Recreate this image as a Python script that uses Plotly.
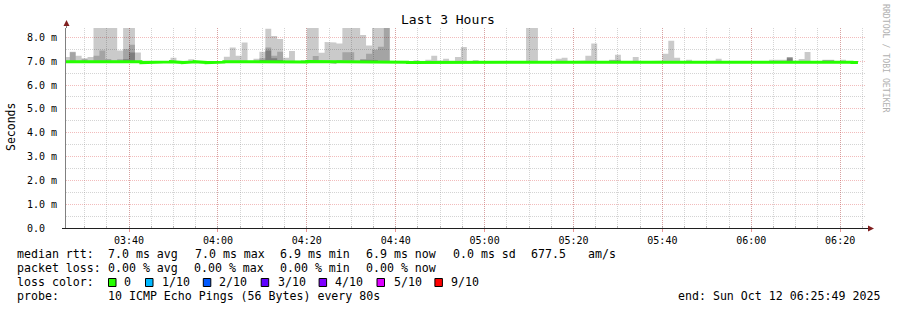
import plotly.graph_objects as go
from datetime import datetime, timedelta

# ---------------- data ----------------
TITLE = "Last 3 Hours"
RANGE_START = datetime(2025, 10, 12, 3, 25, 49)
RANGE_END = datetime(2025, 10, 12, 6, 25, 49)
FIRST_STEP_END = datetime(2025, 10, 12, 3, 26, 40)
STEP_S = 80

y_tick_values = [0, 1, 2, 3, 4, 5, 6, 7, 8]
y_tick_labels = ["0.0\u00a0\u00a0", "1.0 m", "2.0 m", "3.0 m", "4.0 m",
                 "5.0 m", "6.0 m", "7.0 m", "8.0 m"]

# median rtt per 80 s step (ms)
median_ms = [
    6.98, 6.98, 6.98, 6.97, 6.98, 6.98, 6.98, 6.98, 6.98, 6.98,
    6.98, 6.98, 6.98, 6.94, 6.97, 6.94, 6.95, 6.97, 6.98, 6.95,
    6.94, 6.97, 6.98, 6.95, 6.94, 6.97, 6.96, 6.98, 6.98, 6.95,
    6.98, 6.95, 6.97, 6.98, 6.98, 6.98, 6.98, 6.98, 6.98, 6.96,
    6.97, 6.99, 6.98, 6.98, 6.96, 6.97, 6.98, 6.98, 6.98, 6.98,
    6.98, 6.98, 6.98, 6.98, 6.98, 6.98, 6.97, 6.96, 6.95, 6.97,
    6.96, 6.98, 6.98, 6.97, 6.98, 6.97, 6.98, 6.98, 6.96, 6.98,
    6.97, 6.98, 6.98, 6.97, 6.97, 6.97, 6.97, 6.95, 6.96, 6.98,
    6.95, 6.97, 6.98, 6.98, 6.98, 6.97, 6.96, 6.98, 6.98, 6.98,
    6.97, 6.97, 6.97, 6.98, 6.97, 6.96, 6.98, 6.97, 6.97, 6.96,
    6.97, 6.98, 6.98, 6.98, 6.97, 6.98, 6.97, 6.97, 6.96, 6.97,
    6.98, 6.97, 6.96, 6.97, 6.97, 6.97, 6.96, 6.97, 6.98, 6.98,
    6.98, 6.98, 6.98, 6.97, 6.98, 6.98, 6.97, 6.97, 6.98, 6.98,
    6.97, 6.98, 6.96, 6.94,
]

# fastest ping per step (ms)
ping_min_ms = [
    6.95, 6.95, 6.95, 6.94, 6.95, 6.95, 6.95, 6.95, 6.95, 6.95,
    6.95, 6.95, 6.95, 6.92, 6.94, 6.92, 6.93, 6.94, 6.95, 6.93,
    6.92, 6.94, 6.95, 6.93, 6.92, 6.94, 6.93, 6.95, 6.95, 6.93,
    6.95, 6.93, 6.94, 6.95, 6.95, 6.95, 6.95, 6.95, 6.95, 6.93,
    6.94, 6.95, 6.95, 6.95, 6.93, 6.90, 6.92, 6.95, 6.95, 6.95,
    6.95, 6.95, 6.95, 6.95, 6.95, 6.95, 6.94, 6.93, 6.93, 6.94,
    6.93, 6.95, 6.95, 6.94, 6.95, 6.94, 6.95, 6.95, 6.93, 6.95,
    6.94, 6.95, 6.95, 6.94, 6.94, 6.94, 6.94, 6.93, 6.93, 6.95,
    6.93, 6.94, 6.95, 6.95, 6.95, 6.94, 6.93, 6.95, 6.95, 6.95,
    6.94, 6.94, 6.94, 6.95, 6.94, 6.93, 6.95, 6.94, 6.94, 6.93,
    6.94, 6.95, 6.95, 6.95, 6.94, 6.95, 6.94, 6.94, 6.93, 6.94,
    6.95, 6.94, 6.93, 6.94, 6.94, 6.94, 6.93, 6.94, 6.95, 6.95,
    6.95, 6.95, 6.95, 6.94, 6.95, 6.95, 6.94, 6.94, 6.95, 6.95,
    6.94, 6.95, 6.93, 6.92,
]

# slowest ping per step (ms) - values above the graph top are clipped
ping_max_ms = [
    7.18, 7.40, 7.23, 7.12, 7.18, 8.60, 8.60, 8.60, 8.60, 7.45,
    8.60, 8.60, 7.36, 7.02, 7.00, 7.02, 7.00, 7.00, 7.14, 7.00,
    7.00, 7.08, 7.01, 7.01, 7.00, 7.00, 7.00, 7.19, 7.57, 7.23,
    7.78, 7.00, 7.10, 7.40, 8.36, 8.06, 7.93, 7.14, 7.43, 7.00,
    7.05, 8.60, 8.60, 7.35, 7.81, 7.78, 7.74, 8.60, 8.60, 8.60,
    8.10, 7.66, 8.60, 8.60, 8.60, 7.00, 7.00, 7.00, 7.01, 7.04,
    7.00, 7.06, 7.23, 7.03, 7.10, 7.02, 7.18, 7.60, 7.00, 7.05,
    7.00, 7.02, 7.00, 7.00, 7.00, 7.00, 7.00, 7.00, 8.60, 8.60,
    7.00, 7.00, 7.01, 7.10, 7.14, 7.00, 7.00, 7.03, 7.23, 7.74,
    7.01, 7.00, 7.06, 7.27, 7.00, 7.00, 7.18, 7.00, 7.00, 7.00,
    7.02, 7.31, 7.86, 7.14, 7.00, 7.06, 7.00, 7.00, 7.00, 7.02,
    7.10, 7.00, 7.00, 7.03, 7.00, 7.00, 7.00, 7.00, 7.00, 7.06,
    7.06, 7.06, 7.18, 7.02, 7.09, 7.39, 7.00, 7.00, 7.06, 7.06,
    7.00, 7.06, 7.00, 7.00,
]

# 9th of 10 pings (ms)
ping_9_ms = [
    7.00, 7.38, 7.00, 7.08, 7.00, 7.23, 7.45, 7.09, 7.02, 7.08,
    7.50, 7.69, 7.00, 7.00, 7.00, 7.00, 7.00, 7.00, 7.00, 7.00,
    7.00, 7.00, 7.00, 7.00, 7.00, 7.00, 7.00, 7.00, 7.00, 7.00,
    7.00, 7.00, 7.00, 7.12, 7.57, 7.23, 7.40, 7.00, 7.00, 7.00,
    7.00, 7.05, 7.22, 7.00, 7.00, 7.00, 7.05, 7.38, 7.38, 7.02,
    7.08, 7.31, 7.48, 7.61, 8.60, 7.00, 7.00, 7.00, 7.00, 7.00,
    7.00, 7.00, 7.00, 7.00, 7.00, 7.00, 7.00, 7.00, 7.00, 7.00,
    7.00, 7.00, 7.00, 7.00, 7.00, 7.00, 7.00, 7.00, 7.00, 7.00,
    7.00, 7.00, 7.00, 7.00, 7.00, 7.00, 7.00, 7.00, 7.00, 7.00,
    7.00, 7.00, 7.04, 7.06, 7.00, 7.00, 7.00, 7.00, 7.00, 7.00,
    7.00, 7.00, 7.00, 7.00, 7.00, 7.00, 7.00, 7.00, 7.00, 7.00,
    7.00, 7.00, 7.00, 7.00, 7.00, 7.00, 7.00, 7.00, 7.00, 7.00,
    7.00, 7.00, 7.17, 7.00, 7.00, 7.00, 7.00, 7.00, 7.05, 7.05,
    7.00, 7.00, 7.00, 7.00,
]

# 8th of 10 pings (ms)
ping_8_ms = [
    7.00, 7.00, 7.00, 7.00, 7.00, 7.00, 7.00, 7.00, 7.00, 7.00,
    7.08, 7.37, 7.00, 7.00, 7.00, 7.00, 7.00, 7.00, 7.00, 7.00,
    7.00, 7.00, 7.00, 7.00, 7.00, 7.00, 7.00, 7.00, 7.00, 7.00,
    7.00, 7.00, 7.00, 7.05, 7.45, 7.12, 7.05, 7.00, 7.00, 7.00,
    7.00, 7.00, 7.00, 7.00, 7.00, 7.00, 7.00, 7.00, 7.00, 7.00,
    7.06, 7.08, 7.05, 7.00, 7.00, 7.00, 7.00, 7.00, 7.00, 7.00,
    7.00, 7.00, 7.00, 7.00, 7.00, 7.00, 7.00, 7.00, 7.00, 7.00,
    7.00, 7.00, 7.00, 7.00, 7.00, 7.00, 7.00, 7.00, 7.00, 7.00,
    7.00, 7.00, 7.00, 7.00, 7.00, 7.00, 7.00, 7.00, 7.00, 7.00,
    7.00, 7.00, 7.00, 7.00, 7.00, 7.00, 7.00, 7.00, 7.00, 7.00,
    7.00, 7.00, 7.00, 7.00, 7.00, 7.00, 7.00, 7.00, 7.00, 7.00,
    7.00, 7.00, 7.00, 7.00, 7.00, 7.00, 7.00, 7.00, 7.00, 7.00,
    7.00, 7.00, 7.12, 7.00, 7.00, 7.00, 7.00, 7.00, 7.00, 7.00,
    7.00, 7.00, 7.00, 7.00,
]

loss_labels = ["0", "1/10", "2/10", "3/10", "4/10", "5/10", "9/10"]
loss_colors = ["#26ff00", "#00b8ff", "#0059ff", "#5e00ff", "#7e00ff", "#dd00ff", "#ff0000"]

stats_rtt = ["7.0 ms avg", "7.0 ms max", "6.9 ms min", "6.9 ms now", "0.0 ms sd", "677.5", "am/s"]
stats_loss = ["0.00 % avg", "0.00 % max", "0.00 % min", "0.00 % now"]
probe_text = "10 ICMP Echo Pings (56 Bytes) every 80s"
end_text = "end: Sun Oct 12 06:25:49 2025"

# ---------------- geometry helpers ----------------
W, H = 897, 310
PL, PR, PT, PB = 66, 866, 28, 228
Y_TOP = 8.393


def px_x(px):
    return (px - PL) / (PR - PL)


def px_y(py):
    return (PB - py) / (PB - PT)


MONO = "DejaVu Sans Mono"
n = len(median_ms)
step_ends = [FIRST_STEP_END + timedelta(seconds=STEP_S * k) for k in range(n)]
starts = [t - timedelta(seconds=STEP_S) for t in step_ends]


def band_polygon(upper, lower):
    """Outline of a stepped band: along the upper values, back along the lower."""
    px, py = [], []
    for s, e, u in zip(starts, step_ends, upper):
        px += [s, e]
        py += [u, u]
    for s, e, lo in reversed(list(zip(starts, step_ends, lower))):
        px += [e, s]
        py += [lo, lo]
    px.append(px[0])
    py.append(py[0])
    return px, py


fig = go.Figure()

smoke_layers = [
    (ping_max_ms, "rgba(0,0,0,0.208)"),
    (ping_9_ms, "rgba(0,0,0,0.188)"),
    (ping_8_ms, "rgba(0,0,0,0.232)"),
]
for upper, col in smoke_layers:
    bx, by = band_polygon(upper, ping_min_ms)
    fig.add_trace(go.Scatter(x=bx, y=by, mode="lines", fill="toself", fillcolor=col,
                             line=dict(width=0), hoverinfo="skip"))

line_x, line_y = [], []
for s, e, m in zip(starts, step_ends, median_ms):
    line_x += [s, e]
    line_y += [m, m]
fig.add_trace(go.Scatter(x=line_x, y=line_y, mode="lines",
                         line=dict(color="#26ff00", width=3)))

MGRID = "rgba(222,79,79,0.38)"
GRID = "rgba(143,143,143,0.38)"

fig.update_xaxes(
    type="date", range=[RANGE_START, RANGE_END],
    tickmode="linear", tick0="2025-10-12 03:40:00", dtick=1200000,
    tickformat="%H:%M", tickfont=dict(family=MONO, size=10, color="#000"),
    showgrid=True, gridcolor=MGRID, griddash="1px,1px", gridwidth=1,
    ticks="outside", ticklen=3, tickcolor="rgba(222,79,79,0.6)",
    minor=dict(tick0="2025-10-12 03:40:00", dtick=300000, showgrid=True,
               gridcolor=GRID, griddash="1px,1px", gridwidth=1,
               ticks="inside", ticklen=2, tickcolor="rgba(143,143,143,0.6)"),
    showline=True, linecolor="#1f1f1f", linewidth=1, zeroline=False,
    fixedrange=True,
)
fig.update_yaxes(
    range=[0, Y_TOP], tickmode="array", tickvals=y_tick_values, ticktext=y_tick_labels,
    tickfont=dict(family=MONO, size=10, color="#000"),
    showgrid=True, gridcolor=MGRID, griddash="1px,1px", gridwidth=1,
    minor=dict(tickmode="array", tickvals=[0.5, 1.5, 2.5, 3.5, 4.5, 5.5, 6.5, 7.5],
               showgrid=True, gridcolor=GRID, griddash="1px,1px", gridwidth=1),
    ticks="", ticklabelstandoff=6,
    showline=True, linecolor="#808080", linewidth=1, zeroline=False,
    fixedrange=True,
)

shapes = []
shapes.append(dict(type="line", xref="paper", yref="paper",
                   x0=px_x(62), x1=px_x(PL), y0=px_y(228.5), y1=px_y(228.5),
                   line=dict(color="#1f1f1f", width=1)))
shapes.append(dict(type="line", xref="paper", yref="paper",
                   x0=px_x(PR), x1=px_x(870), y0=px_y(228.5), y1=px_y(228.5),
                   line=dict(color="#1f1f1f", width=1)))
shapes.append(dict(type="line", xref="paper", yref="paper",
                   x0=px_x(66.5), x1=px_x(66.5), y0=px_y(PT), y1=px_y(23),
                   line=dict(color="#808080", width=1)))
ARROW = "#801f1f"
shapes.append(dict(type="path", xref="paper", yref="paper",
                   path=f"M {px_x(66.5)},{px_y(20)} L {px_x(63.5)},{px_y(26)} L {px_x(69.5)},{px_y(26)} Z",
                   fillcolor=ARROW, line=dict(width=0)))
shapes.append(dict(type="path", xref="paper", yref="paper",
                   path=f"M {px_x(874)},{px_y(228.5)} L {px_x(868)},{px_y(225.5)} L {px_x(868)},{px_y(231.5)} Z",
                   fillcolor=ARROW, line=dict(width=0)))

box_left = [108.5, 145.5, 203.3, 261.2, 319.1, 377.0, 434.9]
label_left = [123.0, 160.7, 218.3, 276.7, 334.3, 392.7, 450.0]
for bx, col in zip(box_left, loss_colors):
    shapes.append(dict(type="rect", xref="paper", yref="paper",
                       x0=px_x(bx), x1=px_x(bx + 7.5), y0=px_y(286.5), y1=px_y(278.5),
                       fillcolor=col, line=dict(color="#000", width=1)))

annotations = []


def txt(text, px, py, size=11.6, anchor="left", color="#000", angle=0, family=MONO):
    annotations.append(dict(text=text, xref="paper", yref="paper", x=px_x(px), y=px_y(py),
                            xanchor=anchor, yanchor="middle", showarrow=False,
                            textangle=angle, borderpad=0,
                            font=dict(family=family, size=size, color=color)))


txt(TITLE, 448, 19.5, size=13, anchor="center")
txt("Seconds", 11, 127, size=11.5, anchor="center", angle=-90)
txt("RRDTOOL / TOBI OETIKER", 886, 59, size=8.2, anchor="center", color="#b0b0b0", angle=90)

ROWS = [254.3, 268.3, 282.3, 296.0]
txt("median rtt:", 16, ROWS[0])
for s, px in zip(stats_rtt, [107.3, 194.0, 279.3, 365.0, 451.7, 530.0, 586.7]):
    txt(s, px, ROWS[0])
txt("packet loss:", 16, ROWS[1])
for s, px in zip(stats_loss, [107.3, 193.3, 279.3, 365.0]):
    txt(s, px, ROWS[1])
txt("loss color:", 16, ROWS[2])
for s, px in zip(loss_labels, label_left):
    txt(s, px, ROWS[2])
txt("probe:", 16, ROWS[3])
txt(probe_text, 107.3, ROWS[3])
txt(end_text, 881, ROWS[3], anchor="right")

fig.update_layout(
    width=W, height=H, autosize=False,
    margin=dict(l=PL, r=W - PR, t=PT, b=H - PB, pad=0),
    paper_bgcolor="#ffffff", plot_bgcolor="#ffffff",
    showlegend=False, shapes=shapes, annotations=annotations,
    font=dict(family=MONO),
)

fig.write_html("out.html", config={"displayModeBar": False})
